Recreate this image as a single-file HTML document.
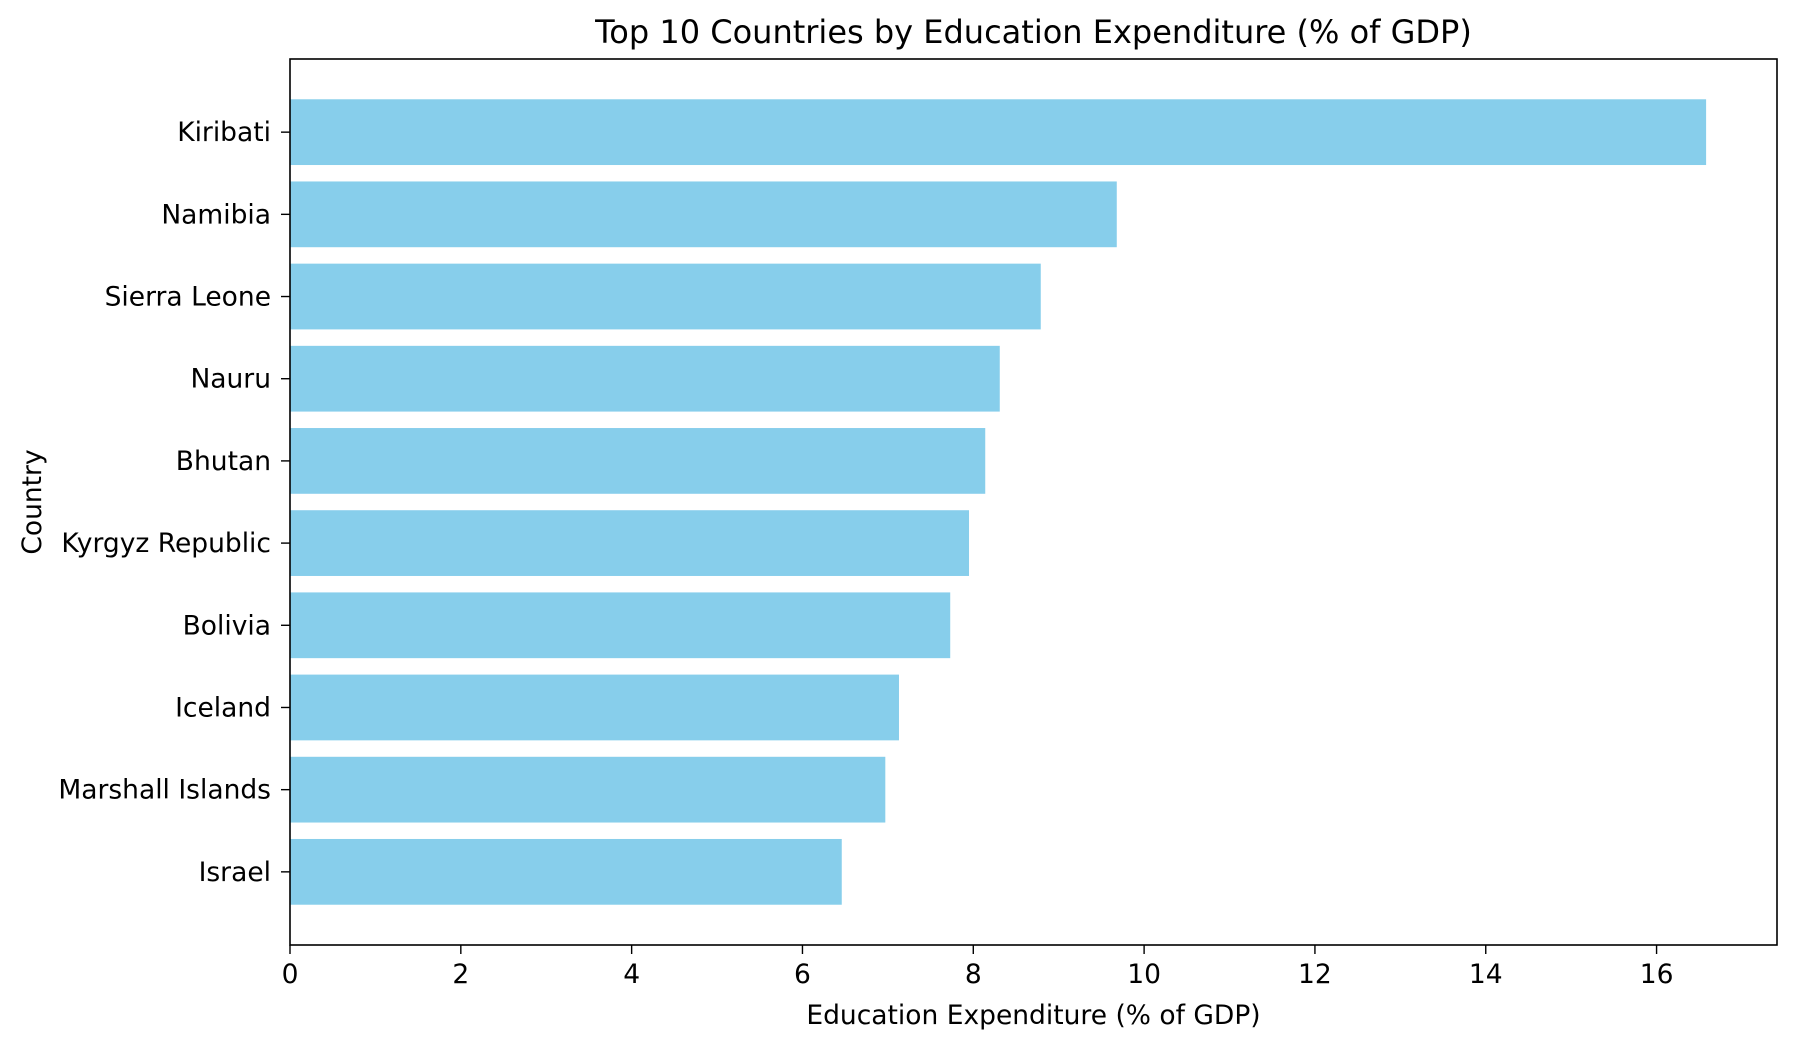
<!DOCTYPE html>
<html><head><meta charset="utf-8"><style>
body{margin:0;background:#fff;}
svg text{font-family:"DejaVu Sans","Liberation Sans",sans-serif;fill:#000;}
</style></head><body>
<svg id="chart" width="1795" height="1046" xmlns="http://www.w3.org/2000/svg">
<rect width="1795" height="1046" fill="#fff"/>
<g id="plot"></g>
</svg>
<script>
const categories=["Kiribati","Namibia","Sierra Leone","Nauru","Bhutan","Kyrgyz Republic","Bolivia","Iceland","Marshall Islands","Israel"];
const values=[16.58,9.68,8.79,8.31,8.14,7.95,7.73,7.13,6.97,6.46];
const xTicks=[0,2,4,6,8,10,12,14,16];
const L=290,R=1777,T=59,B=945,XMAX=17.41;
const NS="http://www.w3.org/2000/svg";
const g=document.getElementById('plot');
const x=v=>L+(v/XMAX)*(R-L);
const n=categories.length;
const ymin=-0.4-0.49, ymax=(n-1)+0.4+0.49;
const y=i=>T+(i-ymin)/(ymax-ymin)*(B-T);
function mk(tag,attrs,parent){const e=document.createElementNS(NS,tag);for(const k in attrs)e.setAttribute(k,attrs[k]);(parent||g).appendChild(e);return e;}
categories.forEach((c,i)=>{
 const b=mk('rect',{x:L,y:y(i-0.4),width:x(values[i])-L,height:y(i+0.4)-y(i-0.4),fill:'#87ceeb'});
 
 
 mk('line',{x1:L-9,x2:L,y1:y(i),y2:y(i),stroke:'#000','stroke-width':1.4});
 const t=mk('text',{x:L-19,y:y(i)+9,'text-anchor':'end','font-size':26.5});
 t.textContent=c;
 
 
});
xTicks.forEach(v=>{
 mk('line',{x1:x(v),x2:x(v),y1:B,y2:B+9,stroke:'#000','stroke-width':1.4});
 const t=mk('text',{x:x(v),y:B+38,'text-anchor':'middle','font-size':26.5});
 t.textContent=v;
 
 
});
const fr=mk('rect',{x:L,y:T,width:R-L,height:B-T,fill:'none',stroke:'#000','stroke-width':1.6});


const tt=mk('text',{x:(L+R)/2,y:43,'text-anchor':'middle','font-size':32});
tt.textContent='Top 10 Countries by Education Expenditure (% of GDP)';


const xl=mk('text',{x:(L+R)/2,y:1024,'text-anchor':'middle','font-size':26.5});
xl.textContent='Education Expenditure (% of GDP)';


const yl=mk('text',{x:0,y:0,'text-anchor':'middle','font-size':26.5,transform:`translate(41,${(T+B)/2}) rotate(-90)`});
yl.textContent='Country';


</script>
</body></html>
